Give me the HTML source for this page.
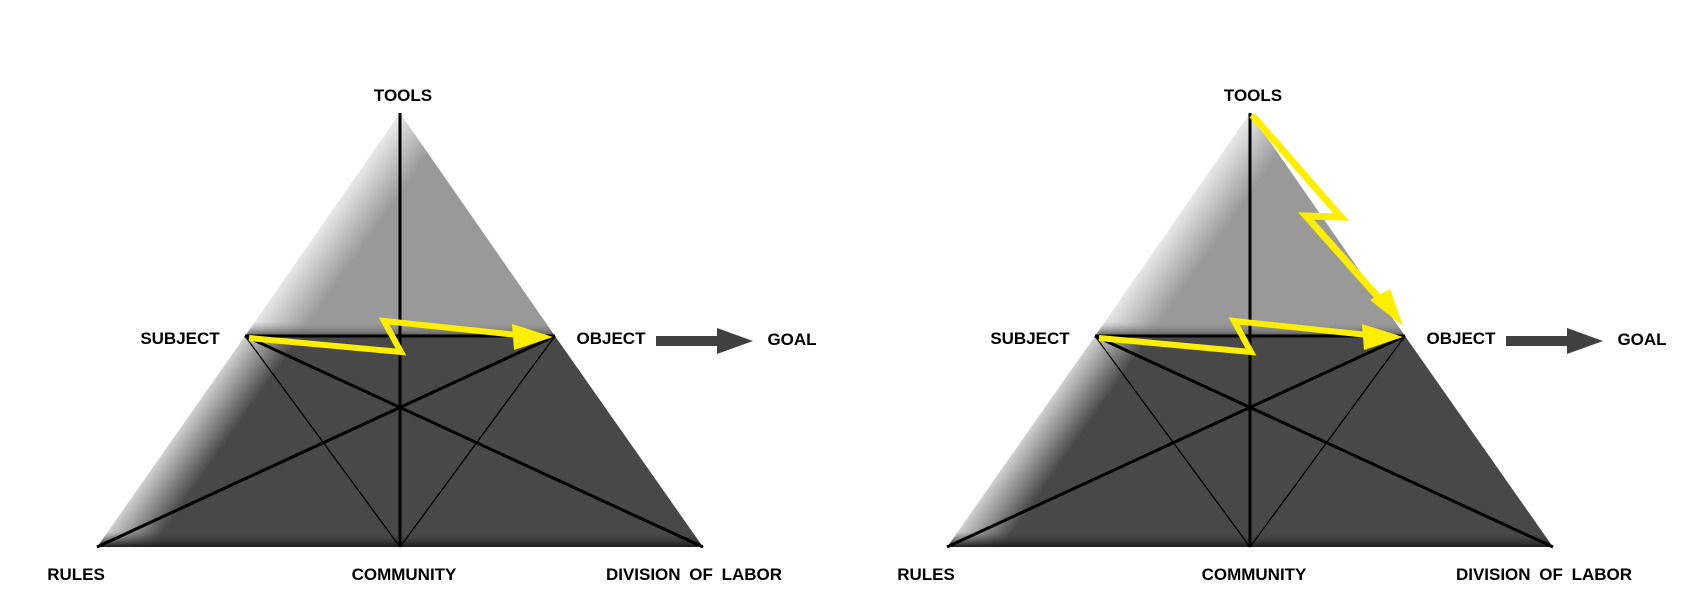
<!DOCTYPE html>
<html><head><meta charset="utf-8"><style>
html,body{margin:0;padding:0;background:#fff;}
svg{display:block;}
text{font-family:"Liberation Sans",sans-serif;font-weight:bold;font-size:17px;fill:#000;}
</style></head><body>
<svg width="1708" height="616" viewBox="0 0 1708 616" xmlns="http://www.w3.org/2000/svg">
<defs>
<linearGradient id="top" gradientUnits="userSpaceOnUse" x1="97" y1="547" x2="134" y2="573">
<stop offset="0" stop-color="#e6e6e6"/><stop offset="1" stop-color="#999"/>
</linearGradient>
<linearGradient id="bot" gradientUnits="userSpaceOnUse" x1="97" y1="547" x2="134" y2="573">
<stop offset="0" stop-color="#d0d0d0"/><stop offset="1" stop-color="#484848"/>
</linearGradient>
<linearGradient id="band" x1="0" y1="0" x2="0" y2="1">
<stop offset="0" stop-color="#484848" stop-opacity="0"/><stop offset="1" stop-color="#1c1c1c"/>
</linearGradient>
<linearGradient id="sband" x1="0" y1="0" x2="0" y2="1">
<stop offset="0" stop-color="#999" stop-opacity="0"/><stop offset="1" stop-color="#555"/>
</linearGradient>
<g id="tri">
<polygon points="400,113 245,336 555,336" fill="url(#top)"/>
<polygon points="255,322 545,322 555,336 245,336" fill="url(#sband)"/>
<polygon points="245,336 555,336 703,547 97,547" fill="url(#bot)"/>
<polygon points="108,532 692,532 703,547 97,547" fill="url(#band)"/>
<g stroke="#000" fill="none">
<line x1="400" y1="113" x2="400" y2="547" stroke-width="3"/>
<line x1="245" y1="336" x2="555" y2="336" stroke-width="3"/>
<line x1="245" y1="336" x2="703" y2="547" stroke-width="3"/>
<line x1="555" y1="336" x2="97" y2="547" stroke-width="3"/>
<line x1="245" y1="336" x2="400" y2="547" stroke-width="1.3"/>
<line x1="555" y1="336" x2="400" y2="547" stroke-width="1.3"/>
</g>
<polyline points="249,338 401,352 384,321 518,335" fill="none" stroke="#ffee00" stroke-width="6" stroke-linejoin="miter"/>
<polygon points="512,324 553,337 514,350" fill="#ffee00"/>
<text x="180" y="344" text-anchor="middle">SUBJECT</text>
<text x="403" y="101" text-anchor="middle">TOOLS</text>
<text x="611" y="344" text-anchor="middle">OBJECT</text>
<polygon points="656,336 717,336 717,328 753,341 717,354 717,346 656,346" fill="#404040"/>
<text x="792" y="345" text-anchor="middle">GOAL</text>
<text x="76" y="580" text-anchor="middle">RULES</text>
<text x="404" y="580" text-anchor="middle">COMMUNITY</text>
<text x="694" y="580" text-anchor="middle" style="word-spacing:4px">DIVISION OF LABOR</text>
</g>
</defs>
<use href="#tri"/>
<use href="#tri" transform="translate(850,0)"/>
<polyline points="1252,115 1341,217 1306,216 1386,306" fill="none" stroke="#ffee00" stroke-width="7" stroke-linejoin="miter"/>
<polygon points="1370,300 1403,326 1390,289" fill="#ffee00"/>
</svg>
</body></html>
